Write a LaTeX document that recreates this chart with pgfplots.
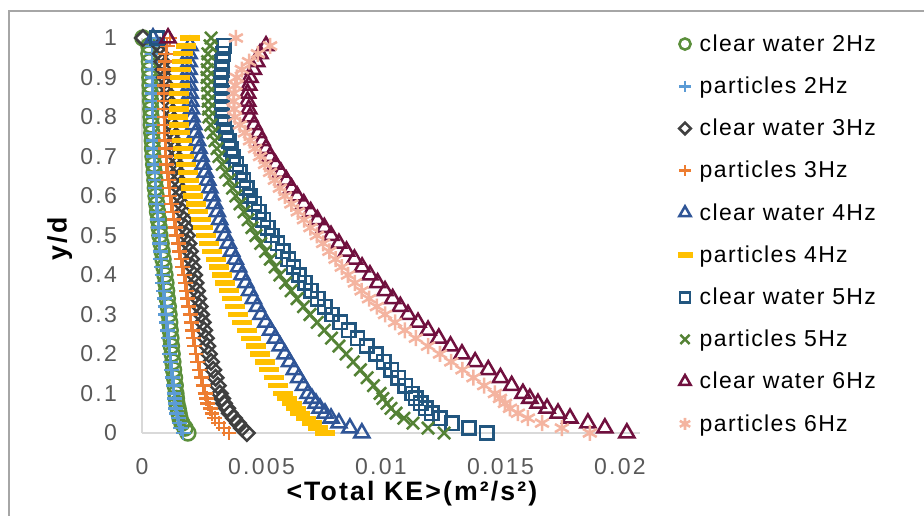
\documentclass[border=0pt]{standalone}
\usepackage{fontspec}
\setmainfont{Liberation Sans}
\newfontfamily\tickfont[LetterSpace=10]{Liberation Sans}
\newfontfamily\legfont[LetterSpace=6]{Liberation Sans}
\newfontfamily\titlefont[LetterSpace=8]{Liberation Sans}
\usepackage{pgfplots}
\usepackage{pgfplotstable}
\pgfplotsset{compat=1.18}
\definecolor{cwtwo}{HTML}{5B8F3B}
\definecolor{ptwo}{HTML}{5B9BD5}
\definecolor{cwthree}{HTML}{404040}
\definecolor{pthree}{HTML}{ED7D31}
\definecolor{cwfour}{HTML}{2F5597}
\definecolor{pfour}{HTML}{FFC000}
\definecolor{cwfive}{HTML}{22567F}
\definecolor{pfive}{HTML}{548235}
\definecolor{cwsix}{HTML}{70103E}
\definecolor{psix}{HTML}{F4B4A0}
\definecolor{axgray}{HTML}{D9D9D9}
\definecolor{tickgray}{HTML}{595959}
\definecolor{bordergray}{HTML}{A6A6A6}

\pgfplotstableread{
y A B C D E F G H I J
0 0.00192 0.00172 0.00439 0.00364 0.00920 0.00766 0.01443 0.01264 0.02029 0.01874
0.0125 0.00180 0.00163 0.00418 0.00343 0.00870 0.00736 0.01368 0.01197 0.01937 0.01757
0.025 0.00167 0.00155 0.00402 0.00322 0.00824 0.00711 0.01297 0.01134 0.01866 0.01674
0.0375 0.00159 0.00151 0.00385 0.00305 0.00791 0.00686 0.01247 0.01096 0.01791 0.01615
0.05 0.00155 0.00146 0.00368 0.00293 0.00766 0.00661 0.01213 0.01063 0.01741 0.01573
0.0625 0.00151 0.00142 0.00356 0.00285 0.00745 0.00644 0.01188 0.01042 0.01695 0.01540
0.075 0.00146 0.00138 0.00343 0.00276 0.00728 0.00628 0.01167 0.01025 0.01657 0.01519
0.0875 0.00144 0.00136 0.00335 0.00270 0.00711 0.00607 0.01146 0.01008 0.01623 0.01498
0.1 0.00142 0.00134 0.00326 0.00264 0.00695 0.00590 0.01130 0.00996 0.01594 0.01477
0.12 0.00139 0.00131 0.00317 0.00256 0.00676 0.00571 0.01102 0.00969 0.01547 0.01432
0.14 0.00136 0.00127 0.00308 0.00249 0.00656 0.00552 0.01073 0.00942 0.01500 0.01387
0.16 0.00132 0.00124 0.00298 0.00241 0.00637 0.00532 0.01043 0.00914 0.01449 0.01341
0.18 0.00129 0.00120 0.00289 0.00234 0.00617 0.00513 0.01011 0.00884 0.01394 0.01294
0.2 0.00126 0.00117 0.00280 0.00226 0.00598 0.00494 0.00979 0.00854 0.01339 0.01247
0.22 0.00123 0.00114 0.00273 0.00221 0.00578 0.00476 0.00941 0.00824 0.01291 0.01197
0.24 0.00121 0.00110 0.00267 0.00216 0.00558 0.00457 0.00902 0.00793 0.01242 0.01146
0.26 0.00118 0.00107 0.00260 0.00211 0.00538 0.00439 0.00865 0.00763 0.01197 0.01100
0.28 0.00116 0.00103 0.00254 0.00206 0.00518 0.00420 0.00830 0.00733 0.01155 0.01059
0.3 0.00113 0.00100 0.00247 0.00201 0.00498 0.00402 0.00795 0.00703 0.01113 0.01017
0.32 0.00110 0.00097 0.00241 0.00196 0.00482 0.00389 0.00765 0.00676 0.01081 0.00983
0.34 0.00106 0.00094 0.00235 0.00191 0.00466 0.00375 0.00735 0.00649 0.01049 0.00950
0.36 0.00103 0.00090 0.00230 0.00186 0.00450 0.00362 0.00707 0.00624 0.01017 0.00919
0.38 0.00100 0.00087 0.00224 0.00181 0.00434 0.00348 0.00682 0.00601 0.00986 0.00891
0.4 0.00096 0.00084 0.00218 0.00176 0.00418 0.00335 0.00657 0.00577 0.00954 0.00862
0.42 0.00092 0.00081 0.00212 0.00170 0.00404 0.00322 0.00634 0.00557 0.00921 0.00836
0.44 0.00088 0.00079 0.00206 0.00164 0.00390 0.00308 0.00612 0.00537 0.00889 0.00810
0.46 0.00084 0.00076 0.00200 0.00158 0.00375 0.00295 0.00589 0.00517 0.00856 0.00784
0.48 0.00080 0.00074 0.00194 0.00152 0.00361 0.00281 0.00567 0.00497 0.00824 0.00758
0.5 0.00075 0.00071 0.00188 0.00146 0.00347 0.00268 0.00544 0.00477 0.00791 0.00732
0.52 0.00072 0.00069 0.00182 0.00140 0.00336 0.00257 0.00526 0.00460 0.00763 0.00705
0.54 0.00069 0.00066 0.00176 0.00134 0.00325 0.00246 0.00507 0.00444 0.00734 0.00678
0.56 0.00065 0.00064 0.00171 0.00129 0.00315 0.00235 0.00489 0.00427 0.00706 0.00652
0.58 0.00062 0.00061 0.00165 0.00123 0.00304 0.00224 0.00470 0.00410 0.00677 0.00625
0.6 0.00059 0.00059 0.00159 0.00117 0.00293 0.00213 0.00452 0.00393 0.00649 0.00598
0.62 0.00056 0.00057 0.00156 0.00114 0.00284 0.00206 0.00438 0.00379 0.00626 0.00577
0.64 0.00054 0.00055 0.00152 0.00110 0.00275 0.00198 0.00424 0.00365 0.00604 0.00556
0.66 0.00051 0.00054 0.00149 0.00107 0.00265 0.00191 0.00409 0.00350 0.00581 0.00536
0.68 0.00049 0.00052 0.00145 0.00103 0.00256 0.00183 0.00395 0.00336 0.00559 0.00515
0.7 0.00046 0.00050 0.00142 0.00100 0.00247 0.00176 0.00381 0.00322 0.00536 0.00494
0.72 0.00044 0.00049 0.00138 0.00098 0.00239 0.00171 0.00372 0.00314 0.00519 0.00473
0.74 0.00043 0.00048 0.00134 0.00097 0.00232 0.00166 0.00363 0.00305 0.00502 0.00452
0.76 0.00041 0.00048 0.00129 0.00095 0.00224 0.00161 0.00353 0.00297 0.00486 0.00431
0.78 0.00039 0.00047 0.00125 0.00094 0.00217 0.00156 0.00344 0.00288 0.00469 0.00410
0.8 0.00038 0.00046 0.00121 0.00092 0.00209 0.00151 0.00335 0.00280 0.00452 0.00389
0.82 0.00037 0.00045 0.00116 0.00092 0.00207 0.00153 0.00334 0.00278 0.00447 0.00386
0.84 0.00036 0.00044 0.00111 0.00092 0.00204 0.00154 0.00333 0.00277 0.00442 0.00383
0.86 0.00035 0.00044 0.00106 0.00092 0.00202 0.00156 0.00333 0.00275 0.00442 0.00384
0.88 0.00034 0.00043 0.00101 0.00092 0.00199 0.00157 0.00332 0.00274 0.00447 0.00391
0.9 0.00033 0.00042 0.00096 0.00092 0.00197 0.00159 0.00331 0.00272 0.00452 0.00397
0.92 0.00032 0.00042 0.00090 0.00095 0.00197 0.00163 0.00334 0.00273 0.00466 0.00418
0.94 0.00031 0.00042 0.00085 0.00097 0.00197 0.00168 0.00336 0.00275 0.00480 0.00448
0.96 0.00029 0.00042 0.00079 0.00100 0.00197 0.00172 0.00339 0.00276 0.00494 0.00485
0.98 0.00029 0.00042 0.00075 0.00105 0.00201 0.00184 0.00343 0.00285 0.00519 0.00536
1 0.00004 0.00059 0.00004 0.00117 0.00046 0.00201 0.00063 0.00289 0.00109 0.00393
}\data

\begin{document}
\begin{tikzpicture}
\useasboundingbox (0,0) rectangle (693pt,387pt);
\draw[color=bordergray, line width=0.8pt] (6.75pt,-2pt) -- (6.75pt,378.75pt) -- (695pt,378.75pt);
\begin{axis}[
  at={(106.5pt,62.25pt)}, anchor=south west,
  scale only axis, width=373.5pt, height=296.25pt,
  xmin=0, xmax=0.02084, ymin=0, ymax=1,
  clip=false,
  axis x line=bottom, axis y line=left,
  axis line style={-, draw=axgray, line width=1.5pt},
  tick style={draw=none},
  scaled x ticks=false, scaled y ticks=false,
  xtick={0,0.005,0.01,0.015,0.02},
  xticklabels={0,0.005,0.01,0.015,0.02},
  ytick={0,0.1,0.2,0.3,0.4,0.5,0.6,0.7,0.8,0.9,1},
  yticklabels={0,0.1,0.2,0.3,0.4,0.5,0.6,0.7,0.8,0.9,1},
  ticklabel style={font=\tickfont\fontsize{17.25pt}{20pt}\selectfont, text=tickgray},
  xticklabel style={anchor=north, inner sep=0pt, yshift=-17pt},
  yticklabel style={anchor=east, inner sep=0pt, xshift=-16.5pt},
  xlabel={<Total KE>(m²/s²)},
  ylabel={y/d},
  xlabel style={at={(axis description cs:0.542,-0.154)}, anchor=center, font=\titlefont\bfseries\fontsize{20pt}{24pt}\selectfont},
  ylabel style={at={(axis description cs:-0.165,0.491)}, anchor=center, font=\titlefont\bfseries\fontsize{20pt}{24pt}\selectfont},
  legend style={at={(axis description cs:1.0743,1.0134)}, anchor=north west, draw=none, fill=none,
    inner sep=0pt, outer sep=0pt, row sep=14.65pt, column sep=5pt,
    font=\legfont\fontsize{17.25pt}{20pt}\selectfont,
    nodes={inner sep=0pt, text height=14pt, text depth=3pt}},
  legend cell align=left,
  legend image code/.code={\path[draw=none,fill=none] (-6pt,0pt) -- (6pt,0pt); \draw[#1, every mark/.append style={scale=0.75}] plot coordinates {(0pt,0pt)};},
]
\addplot[only marks, mark=o, mark size=5.6pt, line width=1.9pt, color=cwtwo] table[x=A,y=y]{\data};
\addlegendentry{clear water 2Hz}
\addplot[only marks, mark=+, mark size=5.6pt, line width=1.9pt, color=ptwo] table[x=B,y=y]{\data};
\addlegendentry{particles 2Hz}
\addplot[only marks, mark=square, mark size=4.1pt, mark options={rotate=45}, line width=1.9pt, color=cwthree] table[x=C,y=y]{\data};
\addlegendentry{clear water 3Hz}
\addplot[only marks, mark=+, mark size=5.6pt, line width=1.9pt, color=pthree] table[x=D,y=y]{\data};
\addlegendentry{particles 3Hz}
\addplot[only marks, mark=triangle, mark size=6.5pt, line width=1.9pt, color=cwfour] table[x=E,y=y]{\data};
\addlegendentry{clear water 4Hz}
\addplot[only marks, mark=-, mark size=7.5pt, line width=4pt, color=pfour] table[x=F,y=y]{\data};
\addlegendentry{particles 4Hz}
\addplot[only marks, mark=square, mark size=5pt, line width=1.9pt, color=cwfive] table[x=G,y=y]{\data};
\addlegendentry{clear water 5Hz}
\addplot[only marks, mark=x, mark size=6.5pt, line width=1.9pt, color=pfive] table[x=H,y=y]{\data};
\addlegendentry{particles 5Hz}
\addplot[only marks, mark=triangle, mark size=6.5pt, line width=1.9pt, color=cwsix] table[x=I,y=y]{\data};
\addlegendentry{clear water 6Hz}
\addplot[only marks, mark=asterisk, mark size=6pt, line width=1.9pt, color=psix] table[x=J,y=y]{\data};
\addlegendentry{particles 6Hz}
\end{axis}
\end{tikzpicture}
\end{document}
